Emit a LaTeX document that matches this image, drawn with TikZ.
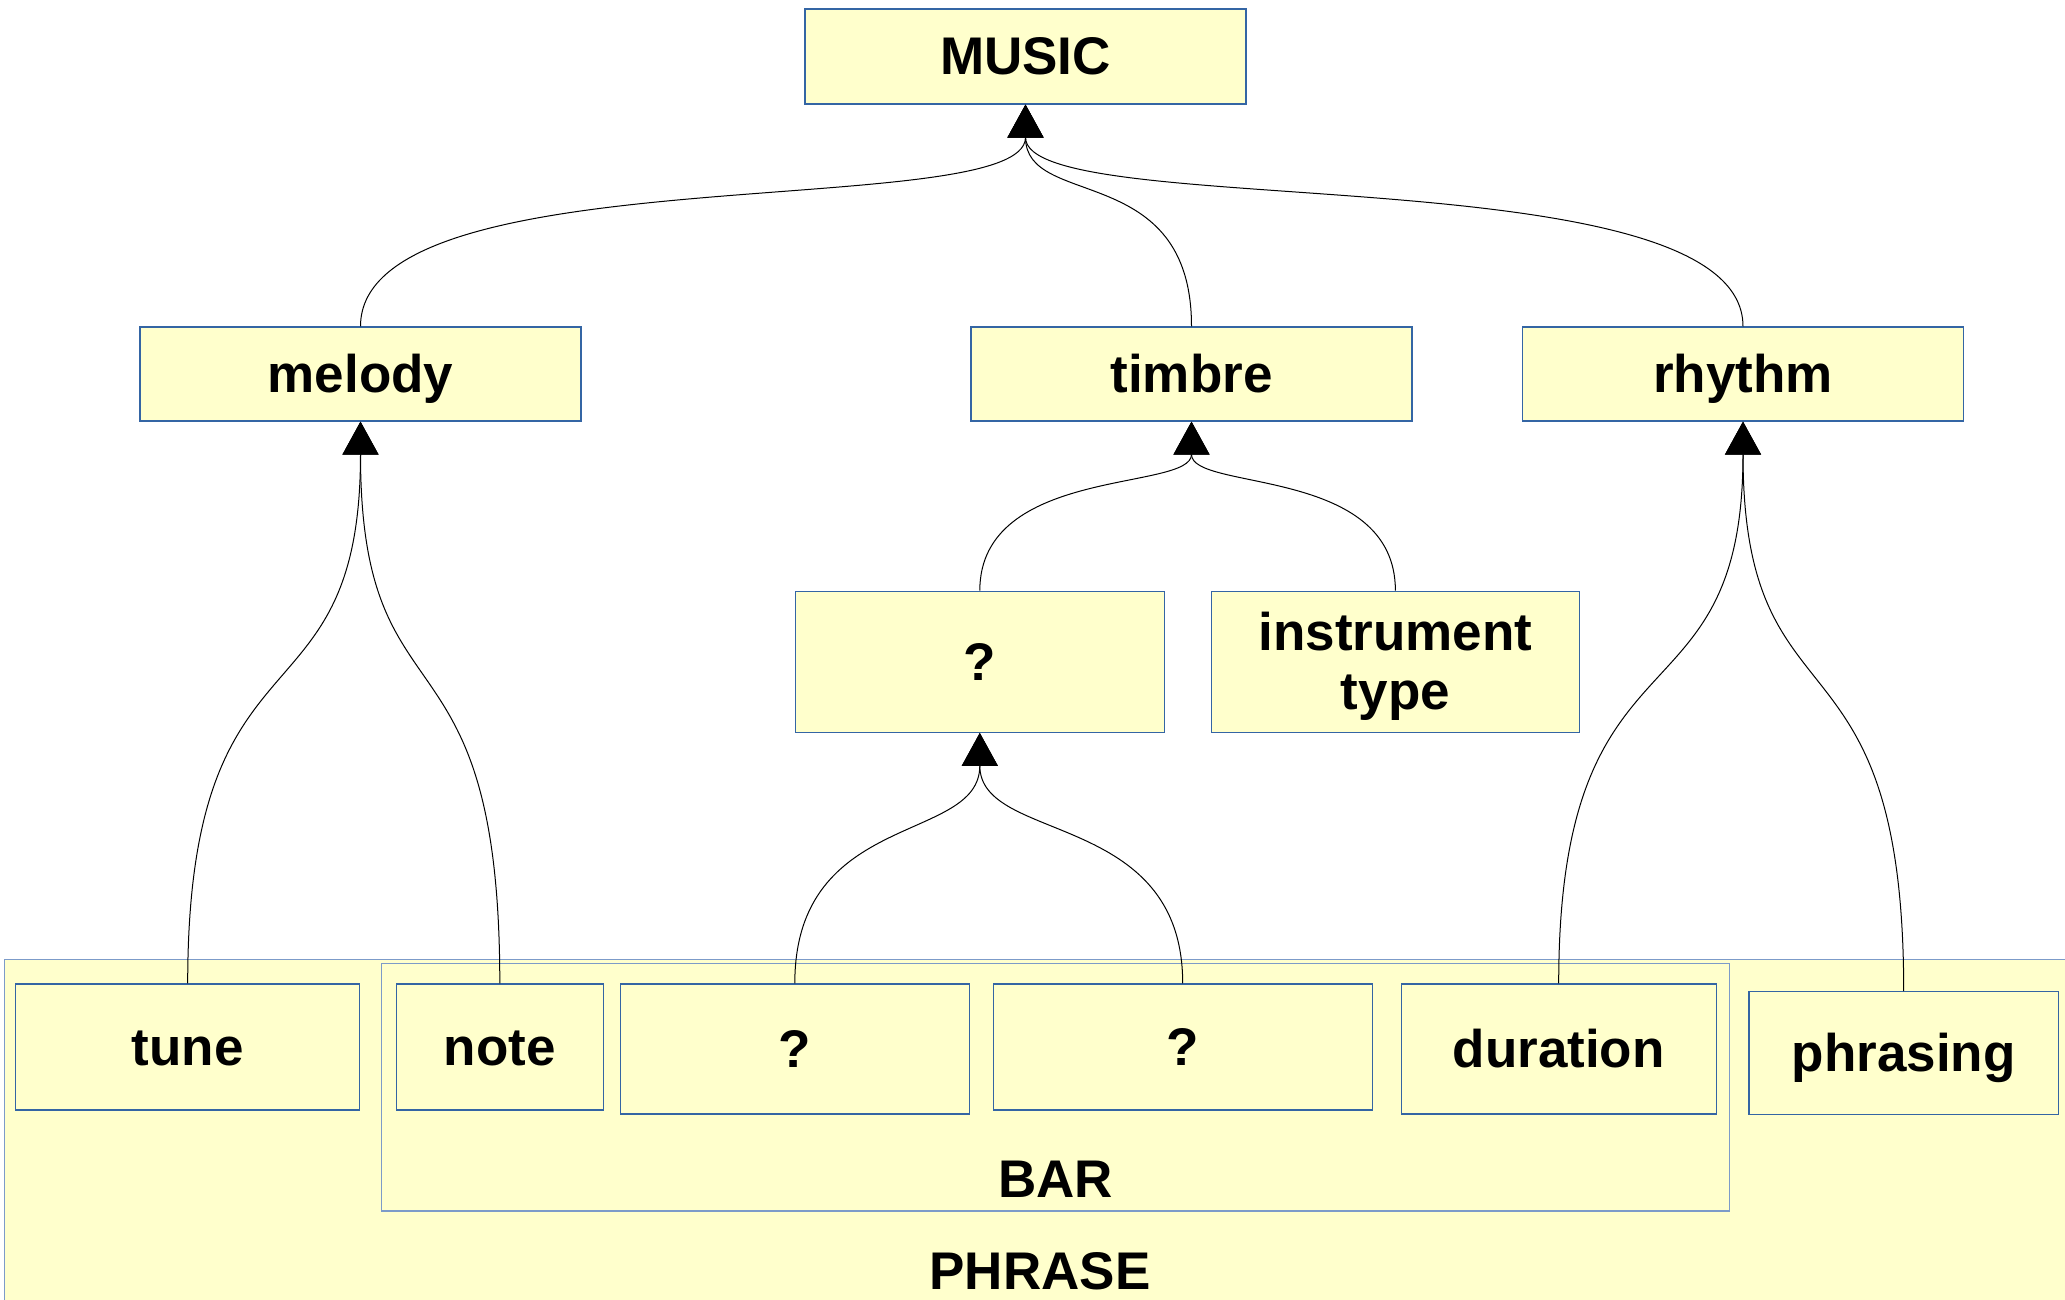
\documentclass[tikz,border=0pt]{standalone}
\usepackage{fontspec}
\setmainfont{Liberation Sans}
\usetikzlibrary{arrows.meta}
\definecolor{boxfill}{HTML}{FFFFCC}
\definecolor{boxline}{HTML}{3465A4}
\definecolor{frameline}{HTML}{7C9BC9}
\begin{document}
\begin{tikzpicture}[x=1pt,y=-1pt,
  lbl/.style={font=\fontsize{53}{59}\selectfont\bfseries,
    text height=48pt, text depth=11.2pt, inner sep=0pt},
  box/.style n args={2}{lbl, draw=boxline, fill=boxfill, line width=1.2pt,
    minimum width=#1pt, minimum height=#2pt},
  frame/.style n args={2}{draw=frameline, fill=boxfill, line width=1.2pt,
    inner sep=0pt, anchor=north west, minimum width=#1pt, minimum height=#2pt},
  conn/.style={draw=black, line width=1pt, -{Triangle[length=33pt,width=36pt]}}]
\useasboundingbox (0,0) rectangle (2065,1299);
\clip (0,0) rectangle (2065,1299);

% grouping frames
\node[frame={2080}{360}] (phrase) at (4,959) {};
\node[frame={1348.6}{247.6}] (bar) at (380.6,962.7) {};
\node[lbl] (phraselbl) at (1040,1271) {PHRASE};
\node[lbl] (barlbl) at (1055.6,1178.7) {BAR};

% top levels
\node[box={441}{95}] (music) at (1025.5,56.5) {MUSIC};
\node[box={441}{94}] (melody) at (360.5,374) {melody};
\node[box={441}{94}] (timbre) at (1191.5,374) {timbre};
\node[box={441}{94}] (rhythm) at (1743,374) {rhythm};
\node[box={369}{141}] (qmid) at (979.8,661.8) {?};
\node[box={367.5}{141}, align=center, text height=107pt] (instr) at (1395.4,661.8) {instrument\\type};

% bottom row
\node[box={344}{126}] (tune) at (187.7,1047) {tune};
\node[box={207}{126}] (note) at (499.8,1047) {note};
\node[box={349}{130}] (q1) at (794.8,1049) {?};
\node[box={379}{126}] (q2) at (1182.7,1047) {?};
\node[box={315}{130}] (duration) at (1558.7,1049) {duration};
\node[box={309.5}{122.5}] (phrasing) at (1903.7,1053) {phrasing};

% connectors
\draw[conn] (melody.north) .. controls +(0,-175) and +(0,119) .. (music.south);
\draw[conn] (timbre.north) .. controls +(0,-166) and +(0,105) .. (music.south);
\draw[conn] (rhythm.north) .. controls +(0,-175) and +(0,119) .. (music.south);
\draw[conn] (qmid.north) .. controls +(0,-125) and +(0,70) .. (timbre.south);
\draw[conn] (instr.north) .. controls +(0,-125) and +(0,70) .. (timbre.south);
\draw[conn] (tune.north) .. controls +(0,-371) and +(0,313) .. (melody.south);
\draw[conn] (note.north) .. controls +(0,-371) and +(0,313) .. (melody.south);
\draw[conn] (q1.north) .. controls +(0,-174) and +(0,111) .. (qmid.south);
\draw[conn] (q2.north) .. controls +(0,-174) and +(0,111) .. (qmid.south);
\draw[conn] (duration.north) .. controls +(0,-371) and +(0,313) .. (rhythm.south);
\draw[conn] (phrasing.north) .. controls +(0,-377) and +(0,317) .. (rhythm.south);
\end{tikzpicture}
\end{document}
